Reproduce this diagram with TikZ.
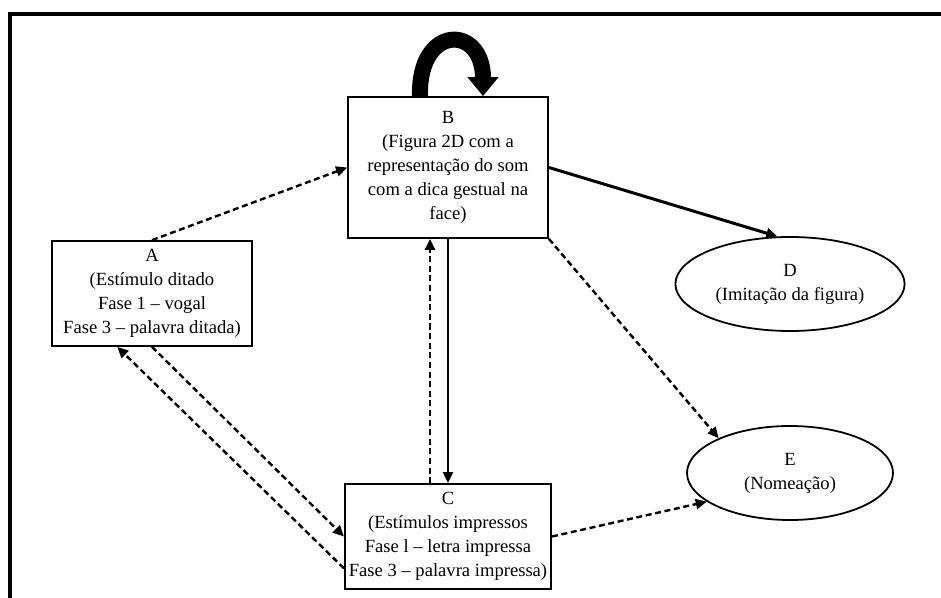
\documentclass[tikz,border=0pt]{standalone}
\usepackage{fontspec}
\setmainfont{Liberation Serif}
\usetikzlibrary{arrows.meta,positioning,shapes.geometric}

\begin{document}
\begin{tikzpicture}[x=0.5pt,y=-0.5pt,>=Latex,
box/.style={draw,line width=0.9pt,minimum width=100pt,inner sep=2pt,align=center,font=\fontsize{9.3}{12}\selectfont},
oval/.style={ellipse,draw,line width=0.9pt,minimum width=103pt,minimum height=47pt,align=center,font=\fontsize{9.3}{12}\selectfont},
arr/.style={-{Triangle[length=5.5pt,width=5pt]},line width=1pt},
darr/.style={arr,line width=1.2pt,dash pattern=on 3pt off 1.8pt}]
\useasboundingbox (0,0) rectangle (941,598);
\draw[line width=2pt] (10,598) -- (10,14) -- (941,14);
\node[box,minimum height=70.5pt] (b) at (448,167.5) {B\\(Figura 2D com a\\representação do som\\com a dica gestual na\\face)};
\node[box,minimum height=52.5pt] (a) at (152,293.5) {A\\(Estímulo ditado\\Fase 1 – vogal\\Fase 3 – palavra ditada)};
\node[box,minimum height=52.5pt] (c) at (448,536.5) {C\\(Estímulos impressos\\Fase l – letra impressa\\Fase 3 – palavra impressa)};
\node[oval] (d) at (790,284) {D\\(Imitação da figura)};
\node[oval] (e) at (790,473) {E\\(Nomeação)};
\draw[line width=8pt,-{Triangle[length=9.5pt,width=15pt]}] ([xshift=-14pt]b.north) .. controls +(-2,-72) and +(0,-72) .. ([xshift=17.5pt]b.north);
\draw[arr,line width=1.5pt] (b.east) -- (d.105);
\draw[arr] (b.south) -- (c.north);
\draw[darr] ([xshift=-9pt]c.north) -- ([xshift=-9pt]b.south);
\foreach \u/\v in {a.north/b.west,b.south east/e.154,c.east/e.199,a.south/c.west,c.197/a.237}{\draw[darr] (\u)--(\v);}
\end{tikzpicture}
\end{document}
